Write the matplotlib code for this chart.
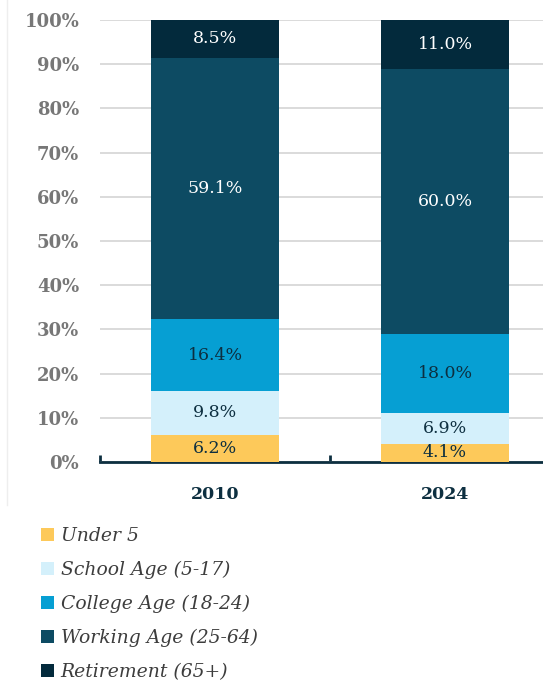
import numpy as np
import matplotlib.pyplot as plt
from matplotlib.patches import Patch

# Veriler
years = ['2010', '2024']
groups = ['Under 5', 'School Age (5-17)', 'College Age (18-24)',
          'Working Age (25-64)', 'Retirement (65+)']
under5 = [6.2, 4.1]
school = [9.8, 6.9]
college = [16.4, 18.0]
working = [59.1, 60.0]
retire = [8.5, 11.0]
series = [under5, school, college, working, retire]

colors = ['#fdc95a', '#d4f0fb', '#069fd3', '#0d4b63', '#032a3c']
text_colors = ['#0d2f40', '#0d2f40', '#0d2f40', 'white', 'white']
navy = '#0d2f40'

plt.rcParams['font.family'] = ['DejaVu Serif']

fig = plt.figure(figsize=(5.43, 6.87), dpi=100)
ax = fig.add_axes([100 / 543, 1 - 462 / 687, 1 - 100 / 543, 442 / 687])

x = np.arange(len(years))
bottom = np.zeros(len(years))
for vals, c, tc in zip(series, colors, text_colors):
    ax.bar(x, vals, width=0.556, bottom=bottom, color=c, zorder=3)
    for xi, b, v in zip(x, bottom, vals):
        ax.text(xi, b + v / 2, f'{v:.1f}%', ha='center', va='center',
                color=tc, fontsize=12.5, zorder=4)
    bottom += np.array(vals)

ax.set_xlim(-0.5, -0.5 + 443 / 230)
ax.set_ylim(0, 100)
ax.set_yticks(np.arange(0, 101, 10))
ax.set_yticklabels([f'{t}%' for t in range(0, 101, 10)],
                   fontsize=13, fontweight='bold', color='#777777')
ax.yaxis.grid(True, color='#d4d4d4', linewidth=1.2, zorder=0)
ax.tick_params(axis='y', length=0, pad=15)

ax.set_xticks(x)
ax.set_xticklabels(years, fontsize=12.5, fontweight='bold', color=navy)
ax.tick_params(axis='x', length=0, pad=17)
# kategori sınır işaretleri
ax.set_xticks([-0.5, 0.5], minor=True)
ax.tick_params(axis='x', which='minor', direction='in', length=5,
               width=2, color=navy)

for s in ['top', 'right', 'left']:
    ax.spines[s].set_visible(False)
ax.spines['bottom'].set_color(navy)
ax.spines['bottom'].set_linewidth(2)

# soldaki ince çizgi
fig.add_artist(plt.Line2D([7 / 543, 7 / 543], [1 - 505 / 687, 1], color='#eeeeee', lw=1))

handles = [Patch(facecolor=c, edgecolor='none') for c in colors]
fig.legend(handles, groups, loc='upper left', bbox_to_anchor=(24 / 543, 1 - 510 / 687),
           frameon=False, prop={'family': 'DejaVu Serif', 'style': 'italic', 'size': 13.5},
           handlelength=0.7, handleheight=0.7, handletextpad=0.35, labelspacing=0.85,
           labelcolor='#3d3d3d')

fig.savefig('out.png', dpi=100)
